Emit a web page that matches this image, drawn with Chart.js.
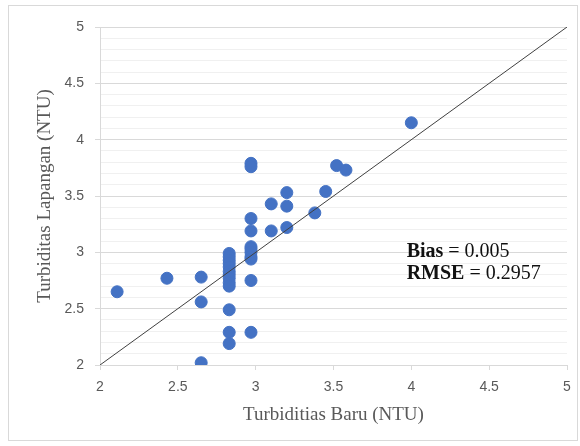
<!DOCTYPE html>
<html>
<head>
<meta charset="utf-8">
<script src="https://cdn.jsdelivr.net/npm/chart.js@4"></script>
<style>
  html, body { margin: 0; padding: 0; background: #fff; }
  canvas { display: block; }
</style>
</head>
<body>
<canvas id="chart" width="580" height="446"></canvas>
<script>
// Turbiditas Baru (x) vs Turbiditas Lapangan (y), NTU
const baruX = [
  2.11, 2.43, 2.65, 2.65, 2.65,
  2.83, 2.83, 2.83, 2.83, 2.83, 2.83, 2.83, 2.83, 2.83, 2.83,
  2.83, 2.83, 2.83,
  2.97, 2.97, 2.97, 2.97, 2.97, 2.97, 2.97, 2.97, 2.97, 2.97, 2.97,
  3.10, 3.10, 3.20, 3.20, 3.20,
  3.38, 3.45, 3.52, 3.58, 4.00
];
const lapanganY = [
  2.65, 2.77, 2.78, 2.56, 2.02,
  2.99, 2.96, 2.93, 2.90, 2.87, 2.83, 2.80, 2.77, 2.73, 2.70,
  2.49, 2.29, 2.19,
  3.79, 3.76, 3.30, 3.19, 3.05, 3.03, 3.00, 2.96, 2.94, 2.75, 2.29,
  3.43, 3.19, 3.53, 3.41, 3.22,
  3.35, 3.54, 3.77, 3.73, 4.15
];

// 1:1 line
const lineX = [2, 5];
const lineY = [2, 5];

const axisMin = 2;
const axisMax = 5;
const statsText = [['Bias', ' = 0.005'], ['RMSE', ' = 0.2957']];

const points = baruX.map((x, i) => ({ x: x, y: lapanganY[i] }));
const linePts = lineX.map((x, i) => ({ x: x, y: lineY[i] }));

const isHalf = v => Math.abs(v * 2 - Math.round(v * 2)) < 1e-6;
const fmt = v => String(Number(v.toFixed(1)));

const frame = {
  id: 'frame',
  beforeDraw(chart) {
    const c = chart.ctx;
    c.save();
    c.fillStyle = '#fff';
    c.fillRect(0, 0, chart.width, chart.height);
    c.strokeStyle = '#d9d9d9';
    c.lineWidth = 1;
    c.strokeRect(8.5, 5.5, 569, 435);
    c.restore();
  },
  afterDatasetsDraw(chart) {
    const c = chart.ctx;
    const xs = chart.scales.x, ys = chart.scales.y;
    const left = xs.getPixelForValue(3.97);
    const rows = [3.005, 2.81];
    c.save();
    c.fillStyle = '#111';
    c.textBaseline = 'middle';
    statsText.forEach((t, i) => {
      const y = ys.getPixelForValue(rows[i]);
      c.font = 'bold 20px "Liberation Serif"';
      c.fillText(t[0], left, y);
      const w = c.measureText(t[0]).width;
      c.font = '20px "Liberation Serif"';
      c.fillText(t[1], left + w, y);
    });
    c.restore();
  }
};

new Chart(document.getElementById('chart'), {
  type: 'scatter',
  data: {
    datasets: [
      {
        type: 'line',
        data: linePts,
        borderColor: '#404040',
        borderWidth: 1,
        pointRadius: 0,
        fill: false
      },
      {
        data: points,
        backgroundColor: '#4472C4',
        borderColor: '#4472C4',
        pointRadius: 6,
        pointHoverRadius: 6
      }
    ]
  },
  options: {
    responsive: false,
    animation: false,
    layout: { padding: { left: 0, right: 13, top: 27, bottom: 0 } },
    plugins: {
      legend: { display: false },
      tooltip: { enabled: false }
    },
    scales: {
      x: {
        type: 'linear',
        min: axisMin,
        max: axisMax,
        afterFit: s => { s.height = 81; },
        ticks: {
          stepSize: 0.5,
          color: '#595959',
          font: { family: '"Liberation Sans"', size: 14 },
          padding: 9,
          callback: v => fmt(v)
        },
        grid: {
          drawOnChartArea: false,
          drawTicks: true,
          tickLength: 5,
          color: '#d9d9d9'
        },
        border: { color: '#d9d9d9' },
        title: {
          display: true,
          text: 'Turbiditias Baru (NTU)',
          color: '#595959',
          font: { family: '"Liberation Serif"', size: 19 },
          padding: { top: 0, bottom: 20 }
        }
      },
      y: {
        type: 'linear',
        min: axisMin,
        max: axisMax,
        afterFit: s => { s.width = 100; },
        ticks: {
          stepSize: 0.1,
          autoSkip: false,
          color: '#595959',
          font: { family: '"Liberation Sans"', size: 14 },
          padding: 11,
          callback: v => isHalf(v) ? fmt(v) : ''
        },
        grid: {
          tickLength: 5,
          color: ctx => isHalf(ctx.tick.value) ? '#d9d9d9' : '#f0f0f0',
          tickColor: ctx => isHalf(ctx.tick.value) ? '#d9d9d9' : 'rgba(0,0,0,0)'
        },
        border: { color: '#d9d9d9' },
        title: {
          display: true,
          text: 'Turbiditas Lapangan (NTU)',
          color: '#595959',
          font: { family: '"Liberation Serif"', size: 19 },
          padding: { top: 34, bottom: 0 }
        }
      }
    }
  },
  plugins: [frame]
});
</script>
</body>
</html>
